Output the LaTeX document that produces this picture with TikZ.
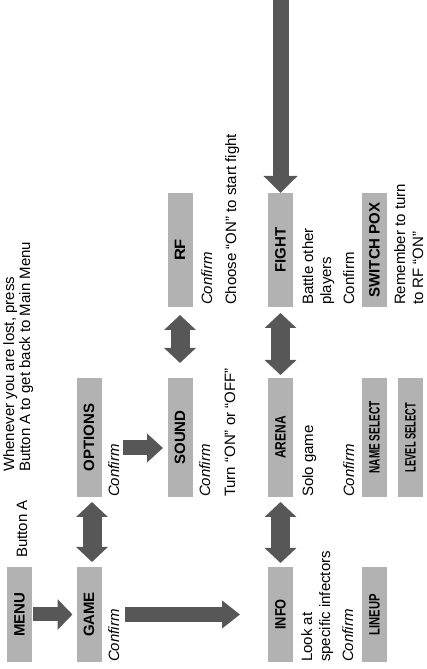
\documentclass[tikz,border=0pt]{standalone}
\usepackage{fontspec}
\usepackage{graphicx}
\setmainfont{Liberation Sans}
\usetikzlibrary{arrows.meta}
\newcommand{\cond}[2]{\scalebox{#1}[1]{#2}}
\tikzset{
    menubox/.style={fill=black!30, rotate=90, minimum height=25pt, inner sep=0pt, outer sep=0pt, font=\fontsize{15}{15}\selectfont\bfseries},
    note/.style={rotate=90, anchor=base west, inner sep=0pt, outer sep=0pt, align=left, font=\fontsize{15}{18}\selectfont},
    confirm/.style={note, font=\fontsize{15}{18}\selectfont\itshape},
    block/.style={draw=black!66, line width=16pt, -{Triangle[width=31pt,length=16pt]}},
    dblock/.style={draw=black!66, line width=19pt, {Triangle[width=31pt,length=15pt]}-{Triangle[width=31pt,length=15pt]}}
}
\begin{document}
\begin{tikzpicture}[x=1pt,y=1pt]
    \useasboundingbox (0,0) rectangle (426,669);
    % menu boxes
    \node[menubox, minimum width=95pt] (menu) at (19.5,54.5) {MENU};
    \node[menubox, minimum width=95pt] (game) at (89,54.5) {GAME};
    \node[menubox, minimum width=119pt] (options) at (89,231.5) {OPTIONS};
    \node[menubox, minimum width=119pt] (sound) at (180,231.5) {SOUND};
    \node[menubox, minimum width=114pt] (rf) at (180,419) {\cond{1.1}{RF}};
    \node[menubox, minimum width=95pt] (info) at (280.5,54.5) {\cond{0.85}{INFO}};
    \node[menubox, minimum width=119pt] (arena) at (280.5,231.5) {\cond{0.8}{ARENA}};
    \node[menubox, minimum width=114pt] (fight) at (280.5,419) {FIGHT};
    \node[menubox, minimum width=95pt] (lineup) at (374.5,54.5) {\cond{0.75}{LINEUP}};
    \node[menubox, minimum width=119pt] (namesel) at (374.5,231.5) {\cond{0.67}{NAME SELECT}};
    \node[menubox, minimum width=119pt] (levelsel) at (410.5,231.5) {\cond{0.62}{LEVEL SELECT}};
    \node[menubox, minimum width=114pt] (switchpox) at (374.5,419) {SWITCH POX};
    % texts
    \node[note] (btna) at (27,111) {Button A};
    \node[note, font=\fontsize{15}{16}\selectfont] (lost) at (30,197) {Whenever you are lost, press\\Button A to get back to Main Menu};
    \node[confirm] (conf1) at (119,7) {Confirm};
    \node[confirm] (conf2) at (119,172) {Confirm};
    \node[confirm] (conf3) at (210,172) {Confirm};
    \node[note] (turn) at (235,172) {Turn ``ON'' or ``OFF''};
    \node[confirm] (conf4) at (212,364) {Confirm};
    \node[note] (choose) at (236,364) {Choose ``ON'' to start fight};
    \node[note] (look) at (330,7) {Look at\\specific infectors};
    \node[confirm] (conf5) at (353,7) {Confirm};
    \node[note] (solo) at (313,172) {Solo game};
    \node[confirm] (conf6) at (354,172) {Confirm};
    \node[note] (battle) at (331,364) {Battle other\\players};
    \node[note] (conf7) at (354,364) {Confirm};
    \node[note] (remember) at (423,364) {Remember to turn\\to RF ``ON''};
    % arrows
    \coordinate (os) at (0,221);
    \coordinate (top) at (280.5,669);
    \draw[block, line width=14pt, -{Triangle[width=30pt,length=15pt]}, shorten <=1pt, shorten >=4pt] (menu.south) -- (game.north);
    \draw[dblock, shorten <=5pt, shorten >=5pt] ([xshift=3pt]game.east) -- ([xshift=3pt]options.west);
    \draw[block, line width=15pt, -{Triangle[width=27pt,length=18pt]}, shorten <=6pt, shorten >=28pt] (game -| conf1.south) -- (info.north);
    \draw[block, line width=15pt, -{Triangle[width=28pt,length=16pt]}, shorten <=4pt, shorten >=4.5pt] (conf2.south |- os) -- (sound.north |- os);
    \draw[dblock, shorten <=15pt, shorten >=8pt] (sound.east) -- (rf.west);
    \draw[dblock, shorten <=4pt, shorten >=5pt] (info.east) -- (arena.west);
    \draw[dblock, shorten <=3pt, shorten >=6pt] (arena.east) -- (fight.west);
    \draw[block, -{Triangle[width=33pt,length=17pt]}] (top) -- (fight.east);
\end{tikzpicture}
\end{document}
